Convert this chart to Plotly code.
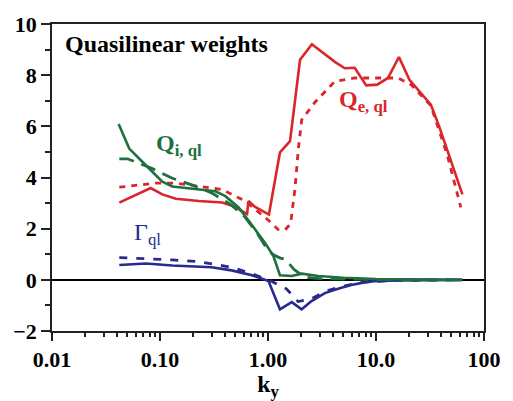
import plotly.graph_objects as go

# ---- data ----
qe_k = [0.042, 0.052, 0.082, 0.105, 0.14, 0.229, 0.376, 0.464, 0.64, 0.66, 0.76, 1.02,
        1.29, 1.6, 1.98, 2.55, 4.16, 5.14, 6.35, 8.12, 10.26, 12.9, 16.3, 20.4, 32.2, 38.5, 63.1]
qe_v = [3.02, 3.21, 3.59, 3.34, 3.17, 3.08, 3.02, 2.9, 2.58, 3.08, 2.85, 2.55,
        4.98, 5.42, 8.6, 9.21, 8.52, 8.27, 8.29, 7.6, 7.63, 7.89, 8.71, 7.82, 6.85, 5.99, 3.34]

qe_q_k = [0.042, 0.0914, 0.14, 0.229, 0.376, 0.615, 1.01, 1.24, 1.44, 1.62, 1.78, 1.91,
          2.05, 2.72, 4.16, 6.35, 10.4, 16.0, 21.1, 32.2, 45.9, 61.0]
qe_q_v = [3.62, 3.78, 3.78, 3.65, 3.53, 3.08, 2.33, 1.97, 1.95, 2.2, 3.59, 5.11,
          6.25, 6.94, 7.76, 7.89, 7.89, 7.89, 7.63, 6.81, 4.85, 2.83]

qi_k = [0.0414, 0.0519, 0.0739, 0.105, 0.13, 0.229, 0.326, 0.403, 0.535, 0.709, 0.94,
        1.12, 1.29, 1.66, 2.05, 2.92, 5.0, 10.0, 20.0, 63.0]
qi_v = [6.09, 5.13, 4.48, 3.84, 3.65, 3.53, 3.46, 3.27, 2.83, 2.14, 1.44,
        0.94, 0.18, 0.15, 0.24, 0.15, 0.08, 0.03, 0.01, 0.0]

qi_q_k = [0.042, 0.05, 0.085, 0.13, 0.2, 0.3, 0.45, 0.6, 0.8, 0.95, 1.1, 1.3, 1.45,
          1.75, 2.2, 3.0, 10.0, 63.0]
qi_q_v = [4.73, 4.73, 4.35, 3.97, 3.7, 3.4, 2.95, 2.5, 1.8, 1.3, 1.0, 0.85, 0.8,
          0.4, 0.1, 0.05, 0.01, 0.0]

g_k = [0.042, 0.074, 0.13, 0.3, 0.46, 0.71, 1.01, 1.29, 1.66, 2.05, 2.53, 3.36, 4.45,
       5.9, 7.8, 9.6, 16.0, 63.0]
g_v = [0.58, 0.64, 0.56, 0.49, 0.37, 0.18, -0.05, -1.15, -0.87, -1.15, -0.83, -0.52, -0.35,
       -0.2, -0.1, -0.05, -0.02, 0.0]

g_q_k = [0.042, 0.074, 0.13, 0.23, 0.46, 0.71, 1.07, 1.48, 1.9, 2.5, 3.4, 4.5, 6.0, 8.0, 16.0, 63.0]
g_q_v = [0.87, 0.83, 0.78, 0.71, 0.49, 0.24, -0.05, -0.35, -0.85, -0.75, -0.45, -0.3, -0.17,
         -0.08, -0.02, 0.0]

x_major = [0.01, 0.1, 1, 10, 100]
x_major_text = ["0.01", "0.10", "1.00", "10.0", "100"]
x_minor = [m * d for d in (0.01, 0.1, 1, 10) for m in range(2, 10)]

RED = "rgb(218,38,42)"
GREEN = "rgb(30,112,62)"
BLUE = "rgb(42,42,142)"
FONT = "Liberation Serif"

fig = go.Figure()
fig.add_trace(go.Scatter(x=qe_q_k, y=qe_q_v, mode="lines",
                         line=dict(color=RED, width=2.8, dash="6px,6px")))
fig.add_trace(go.Scatter(x=qe_k, y=qe_v, mode="lines", line=dict(color=RED, width=2.6)))
fig.add_trace(go.Scatter(x=g_q_k, y=g_q_v, mode="lines",
                         line=dict(color=BLUE, width=2.8, dash="8px,9px")))
fig.add_trace(go.Scatter(x=g_k, y=g_v, mode="lines", line=dict(color=BLUE, width=2.6)))
fig.add_trace(go.Scatter(x=qi_q_k, y=qi_q_v, mode="lines",
                         line=dict(color=GREEN, width=2.8, dash="15px,8px")))
fig.add_trace(go.Scatter(x=qi_k, y=qi_v, mode="lines", line=dict(color=GREEN, width=2.6)))
# minor tick carrier on overlay axis
fig.add_trace(go.Scatter(x=[0.01, 100], y=[None, None], xaxis="x2", mode="lines",
                         showlegend=False, hoverinfo="skip"))

fig.update_layout(
    width=513, height=401,
    margin=dict(l=52, r=26, t=14, b=70),
    paper_bgcolor="white", plot_bgcolor="white",
    showlegend=False,
    font=dict(family=FONT, color="black"),
    xaxis=dict(type="log", range=[-2, 2], tickvals=x_major, ticktext=x_major_text,
               ticks="outside", ticklen=8, tickwidth=1.5, tickcolor="#222",
               showline=True, linecolor="#222", linewidth=1.5, mirror=True,
               showgrid=False, zeroline=False,
               tickfont=dict(family=FONT, size=22, weight="bold"),
               title=dict(text="<b>k<sub>y</sub></b>", font=dict(family=FONT, size=24), standoff=0)),
    xaxis2=dict(type="log", range=[-2, 2], overlaying="x", anchor="y", side="bottom",
                tickvals=x_minor, ticks="outside", ticklen=5, tickwidth=1.5, tickcolor="#222",
                showticklabels=False, showgrid=False, showline=False, zeroline=False),
    yaxis=dict(range=[-2, 10], dtick=2, ticks="outside", ticklen=9, tickwidth=1.5, tickcolor="#222",
               showline=True, linecolor="#222", linewidth=1.5, mirror=True,
               showgrid=False, zeroline=True, zerolinecolor="black", zerolinewidth=1.5,
               tickfont=dict(family=FONT, size=22, weight="bold"),
               minor=dict(dtick=1, ticks="outside", ticklen=5, tickwidth=1.5, tickcolor="#222",
                          showgrid=False)),
)

fig.add_annotation(xref="paper", yref="paper", x=0.025, y=0.934, xanchor="left", yanchor="middle",
                   text="<b>Quasilinear weights</b>", showarrow=False,
                   font=dict(family=FONT, size=24, color="black"))
fig.add_annotation(xref="paper", yref="paper", x=0.235, y=0.605, xanchor="left", yanchor="middle",
                   text="<b>Q<sub>i, ql</sub></b>", showarrow=False,
                   font=dict(family=FONT, size=24, color=GREEN))
fig.add_annotation(xref="paper", yref="paper", x=0.66, y=0.75, xanchor="left", yanchor="middle",
                   text="<b>Q<sub>e, ql</sub></b>", showarrow=False,
                   font=dict(family=FONT, size=24, color=RED))
fig.add_annotation(xref="paper", yref="paper", x=0.186, y=0.315, xanchor="left", yanchor="middle",
                   text="Γ<sub>ql</sub>", showarrow=False,
                   font=dict(family=FONT, size=24, color=BLUE))

fig.write_html("out.html")
